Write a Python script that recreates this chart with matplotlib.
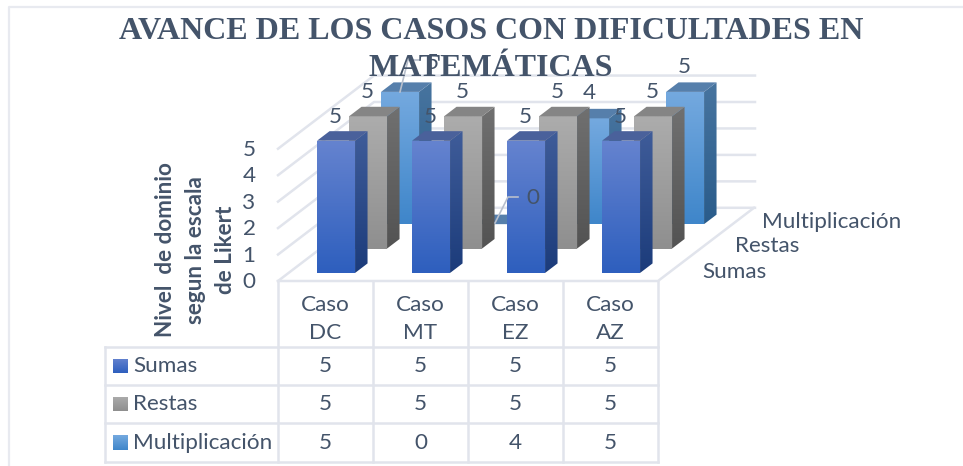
#!/usr/bin/env python3
import matplotlib
matplotlib.use('Agg')
import matplotlib.pyplot as plt
import numpy as np
from matplotlib.colors import LinearSegmentedColormap
from matplotlib.patches import Polygon

plt.rcParams['font.family'] = ['Lato', 'DejaVu Sans']

TEXT = '#44546A'
GRID = '#E1E4EC'
FS = 16.2

TITLE = 'AVANCE DE LOS CASOS CON DIFICULTADES EN\nMATEMÁTICAS'
CASES = ['Caso\nDC', 'Caso\nMT', 'Caso\nEZ', 'Caso\nAZ']
SERIES = ['Sumas', 'Restas', 'Multiplicación']
SUMAS = [5, 5, 5, 5]
RESTAS = [5, 5, 5, 5]
MULT = [5, 0, 4, 5]
YTICKS = [0, 1, 2, 3, 4, 5]

# front top, front bottom, side top, side bottom, top face
COLORS = [
    ('#6583CF', '#2E5FBE', '#3F5C99', '#1C3C7B', '#4A619B'),
    ('#ACACAC', '#8F8F8F', '#707070', '#535353', '#858585'),
    ('#74A9DF', '#3F86CA', '#47749F', '#2A5C8B', '#567FAB'),
]

# pixel geometry of the oblique projection
X0, Y0 = 278, 281
CASE_W = 95
DEPTH_X, DEPTH_Y = 32, 24.4
UNIT = 26.45
BAR_W = 0.4
BAR_D = 0.39
BAR_X0 = 0.3
BAR_D0 = 0.33


def project(x, depth, z):
    return X0 + CASE_W * x + DEPTH_X * depth, Y0 - DEPTH_Y * depth - UNIT * z


def gradient_poly(axis, pts, top, bottom, zorder):
    pts = np.array(pts)
    cmap = LinearSegmentedColormap.from_list('g', [top, bottom])
    extent = [pts[:, 0].min(), pts[:, 0].max(), pts[:, 1].max(), pts[:, 1].min()]
    img = axis.imshow(np.linspace(0, 1, 64).reshape(-1, 1), cmap=cmap, extent=extent,
                      aspect='auto', interpolation='bilinear', zorder=zorder)
    img.set_clip_path(Polygon(pts, closed=True, transform=axis.transData))


def draw_bar(axis, x, depth, value, colors, zorder):
    ftop, fbot, stop, sbot, topc = colors
    x1, x2 = x, x + BAR_W
    d1, d2 = depth, depth + BAR_D
    if value > 0:
        front = [project(x1, d1, 0), project(x2, d1, 0), project(x2, d1, value), project(x1, d1, value)]
        side = [project(x2, d1, 0), project(x2, d2, 0), project(x2, d2, value), project(x2, d1, value)]
        gradient_poly(axis, front, ftop, fbot, zorder)
        gradient_poly(axis, side, stop, sbot, zorder)
    top = [project(x1, d1, value), project(x2, d1, value), project(x2, d2, value), project(x1, d2, value)]
    axis.add_patch(Polygon(top, closed=True, fc=topc, ec='none', zorder=zorder))


fig = plt.figure(figsize=(9.63, 4.66), dpi=100)
axis = fig.add_axes([0, 0, 1, 1])

# chart frame, only the top and left edges fall inside the picture
axis.plot([8.5, 8.5, 963], [466, 6.5, 6.5], color='#E8EAF0', lw=1.6, zorder=0)

# walls and floor
for tick in YTICKS:
    pts = [project(0, 0, tick), project(0, 3, tick), (755, project(0, 3, tick)[1])]
    axis.plot(*zip(*pts), color=GRID, lw=1.8, zorder=1)
    axis.text(249, Y0 - UNIT * tick + 1, str(tick), color=TEXT, fontsize=FS, ha='center', va='center')
axis.plot(*zip(project(0, 0, 0), project(4, 0, 0), project(4, 3, 0)), color=GRID, lw=1.8, zorder=1)

# bars, back row first
all_values = [SUMAS, RESTAS, MULT]
for s in [2, 1, 0]:
    for i, value in enumerate(all_values[s]):
        zorder = 2 + (2 - s) + i * 0.1
        draw_bar(axis, i + BAR_X0, s + BAR_D0, value, COLORS[s], zorder)

# data labels
for i, value in enumerate(SUMAS):
    axis.text(335 + CASE_W * i, 117, str(value), color=TEXT, fontsize=FS, ha='center', va='center', zorder=8)
for i, value in enumerate(RESTAS):
    axis.text(367 + CASE_W * i, 92, str(value), color=TEXT, fontsize=FS, ha='center', va='center', zorder=8)
mult_pos = [(432, 63), (533, 198), (589, 93), (684, 67)]
for (x, y), value in zip(mult_pos, MULT):
    axis.text(x, y, str(value), color=TEXT, fontsize=FS, ha='center', va='center', zorder=8)
axis.plot([400, 408, 420], [92, 60, 60], color='#B8BFCC', lw=1.2, zorder=7)
axis.plot([495, 508, 518], [223, 197, 197], color='#B8BFCC', lw=1.2, zorder=7)

# depth axis labels
for (x, y), name in zip([(702, 272), (735, 246), (762, 222)], SERIES):
    axis.text(x, y, name, color=TEXT, fontsize=FS, ha='left', va='center')

# data table
for x in [278, 373, 468, 563, 658]:
    axis.plot([x, x], [281, 462], color=GRID, lw=1.8, zorder=1)
axis.plot([105, 105], [347, 462], color=GRID, lw=1.8, zorder=1)
for y in [347, 385, 423, 462]:
    axis.plot([105, 658], [y, y], color=GRID, lw=1.8, zorder=1)
for i, case in enumerate(CASES):
    xc = X0 + CASE_W * (i + 0.5)
    axis.text(xc, 319, case, color=TEXT, fontsize=FS, ha='center', va='center', linespacing=1.55)
for row, (name, values, colors) in enumerate(zip(SERIES, all_values, COLORS)):
    yc = 366 + 38.3 * row
    gradient_poly(axis, [(113, yc - 7.5), (128, yc - 7.5), (128, yc + 7), (113, yc + 7)], colors[0], colors[1], 3)
    axis.text(133, yc, name, color=TEXT, fontsize=FS, ha='left', va='center')
    for i, value in enumerate(values):
        axis.text(X0 + CASE_W * (i + 0.5), yc, str(value), color=TEXT, fontsize=FS, ha='center', va='center')

# axis title
for x, line in zip([166, 196, 225], ['Nivel  de dominio', 'segun la escala', 'de Likert']):
    axis.text(x, 250, line, color=TEXT, fontsize=16.2, fontweight='bold', rotation=90, ha='center', va='center')

axis.text(491, 50, TITLE, color=TEXT, fontsize=23, fontweight='bold', family=['Liberation Serif'],
          ha='center', va='center', linespacing=1.35, zorder=9)

axis.set_xlim(0, 963)
axis.set_ylim(466, 0)
axis.axis('off')
fig.savefig('out.png', dpi=100)
